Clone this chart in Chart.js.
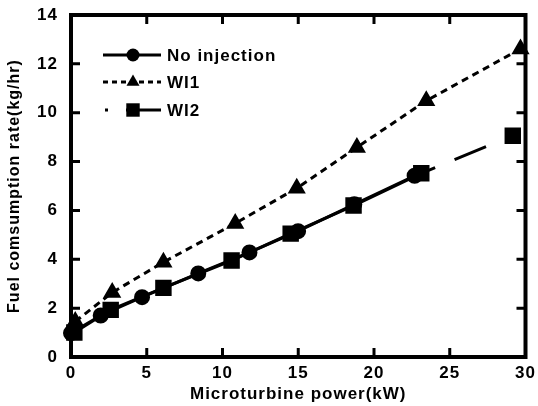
<!DOCTYPE html>
<html>
<head>
<meta charset="utf-8">
<script src="https://cdn.jsdelivr.net/npm/chart.js@4/dist/chart.umd.min.js"></script>
<style>
  body { margin: 0; background: #fff; }
  #wrap { width: 538px; height: 406px; }
</style>
</head>
<body>
<div id="wrap"><canvas id="chart" width="538" height="406"></canvas></div>
<script>
// values
const seriesNames = ['No injection', 'WI1', 'WI2'];

const noInjPower = [0, 1.96, 4.69, 8.4, 11.78, 14.99, 18.7, 22.68];
const noInjFuel  = [0.98, 1.7, 2.45, 3.42, 4.28, 5.15, 6.25, 7.42];

const wi1Power = [0.28, 2.72, 6.1, 10.84, 14.9, 18.87, 23.45, 29.67];
const wi1Fuel  = [1.45, 2.64, 3.88, 5.47, 6.91, 8.58, 10.49, 12.61];

const wi2Power = [0.22, 2.62, 6.1, 10.6, 14.5, 18.65, 23.12, 29.16];
const wi2Fuel  = [1.0, 1.93, 2.83, 3.95, 5.05, 6.2, 7.52, 9.06];

const xTickValues = [0, 5, 10, 15, 20, 25, 30];
const yTickValues = [0, 2, 4, 6, 8, 10, 12, 14];

const toPoints = (xs, ys) => xs.map((x, i) => ({ x: x, y: ys[i] }));

const FONT = 'Liberation Sans, Arial, sans-serif';
const tickFont = { family: FONT, size: 17, weight: 'bold' };

// frame + inward tick marks
const framePlugin = {
  id: 'frame',
  beforeDraw(chart) {
    chart.ctx.letterSpacing = '1px';
  },
  beforeDatasetsDraw(chart) {
    const { ctx, chartArea: a, scales: { x, y } } = chart;
    ctx.save();
    ctx.strokeStyle = '#000';
    ctx.lineWidth = 3;
    ctx.beginPath();
    xTickValues.forEach(v => {
      const px = x.getPixelForValue(v);
      ctx.moveTo(px, a.bottom); ctx.lineTo(px, a.bottom - 9);
      ctx.moveTo(px, a.top); ctx.lineTo(px, a.top + 9);
    });
    yTickValues.forEach(v => {
      const py = y.getPixelForValue(v);
      ctx.moveTo(a.left, py); ctx.lineTo(a.left + 9, py);
      ctx.moveTo(a.right, py); ctx.lineTo(a.right - 9, py);
    });
    ctx.stroke();
    ctx.lineWidth = 4;
    ctx.lineJoin = 'miter';
    ctx.strokeRect(a.left, a.top, a.right - a.left, a.bottom - a.top);
    ctx.restore();
  }
};

// legend drawn as line + marker, like the original
const legendRows = [55, 82, 110];
const legendPlugin = {
  id: 'lineLegend',
  afterDatasetsDraw(chart) {
    const ctx = chart.ctx;
    ctx.save();
    chart.data.datasets.forEach((ds, i) => {
      const yy = legendRows[i];
      ctx.strokeStyle = '#000';
      ctx.fillStyle = '#000';
      ctx.lineWidth = 3;
      ctx.setLineDash(ds.legendDash || []);
      ctx.lineDashOffset = ds.legendDashOffset || 0;
      ctx.beginPath();
      ctx.moveTo(103, yy);
      ctx.lineTo(161, yy);
      ctx.stroke();
      ctx.setLineDash([]);
      const r = ds.pointRadius;
      ctx.beginPath();
      if (ds.pointStyle === 'circle') {
        ctx.arc(133, yy, r, 0, Math.PI * 2);
      } else if (ds.pointStyle === 'triangle') {
        ctx.moveTo(133, yy - r);
        ctx.lineTo(133 + r * Math.sin(2 * Math.PI / 3), yy + r / 2);
        ctx.lineTo(133 - r * Math.sin(2 * Math.PI / 3), yy + r / 2);
        ctx.closePath();
      } else {
        const s = r * Math.SQRT1_2;
        ctx.rect(133 - s, yy - s, 2 * s, 2 * s);
      }
      ctx.fill();
      ctx.font = 'bold 17px ' + FONT;
      ctx.textBaseline = 'middle';
      ctx.textAlign = 'left';
      ctx.fillText(ds.label, 167, yy + 1);
    });
    ctx.restore();
  }
};

new Chart(document.getElementById('chart'), {
  type: 'scatter',
  data: {
    datasets: [
      {
        label: seriesNames[0],
        data: toPoints(noInjPower, noInjFuel),
        showLine: true,
        borderColor: '#000',
        borderWidth: 3,
        pointStyle: 'circle',
        pointRadius: 6.5,
        pointBackgroundColor: '#000',
        pointBorderColor: '#000',
        clip: false
      },
      {
        label: seriesNames[1],
        data: toPoints(wi1Power, wi1Fuel),
        showLine: true,
        borderColor: '#000',
        borderWidth: 3,
        borderDash: [7, 5],
        legendDash: [5, 4],
        legendDashOffset: 0,
        pointStyle: 'triangle',
        pointRadius: 7.5,
        pointBackgroundColor: '#000',
        pointBorderColor: '#000',
        clip: false
      },
      {
        label: seriesNames[2],
        data: toPoints(wi2Power, wi2Fuel),
        showLine: true,
        borderColor: '#000',
        borderWidth: 3,
        legendDash: [3, 18, 40, 18],
        legendDashOffset: -2,
        segment: {
          borderDash: c => c.p0DataIndex === wi2Power.length - 2 ? [34, 21] : undefined,
          borderDashOffset: c => c.p0DataIndex === wi2Power.length - 2 ? 19 : undefined
        },
        pointStyle: 'rect',
        pointRadius: 9.5,
        pointBackgroundColor: '#000',
        pointBorderColor: '#000',
        clip: false
      }
    ]
  },
  options: {
    responsive: false,
    animation: false,
    layout: { padding: { left: 0, right: 8, top: 15, bottom: 0 } },
    plugins: {
      legend: { display: false },
      tooltip: { enabled: false }
    },
    scales: {
      x: {
        type: 'linear',
        min: 0,
        max: 30,
        afterBuildTicks: s => { s.ticks = xTickValues.map(v => ({ value: v })); },
        afterFit: s => { s.height = 49; s.paddingLeft = 0; s.paddingRight = 0; },
        grid: { display: false, drawTicks: false },
        border: { display: false },
        ticks: { font: tickFont, color: '#000', padding: 6, maxRotation: 0, autoSkip: false },
        title: {
          display: true,
          text: 'Microturbine power(kW)',
          font: { family: FONT, size: 17, weight: 'bold' },
          color: '#000',
          padding: { top: 0, bottom: 1 }
        }
      },
      y: {
        type: 'linear',
        min: 0,
        max: 14,
        afterBuildTicks: s => { s.ticks = yTickValues.map(v => ({ value: v })); },
        afterFit: s => { s.width = 71; s.paddingTop = 0; s.paddingBottom = 0; },
        grid: { display: false, drawTicks: false },
        border: { display: false },
        ticks: { font: tickFont, color: '#000', padding: 13, autoSkip: false },
        title: {
          display: true,
          text: 'Fuel comsumption rate(kg/hr)',
          font: { family: FONT, size: 16, weight: 'bold' },
          color: '#000',
          padding: { top: 5, bottom: 0 }
        }
      }
    }
  },
  plugins: [framePlugin, legendPlugin]
});
</script>
</body>
</html>
